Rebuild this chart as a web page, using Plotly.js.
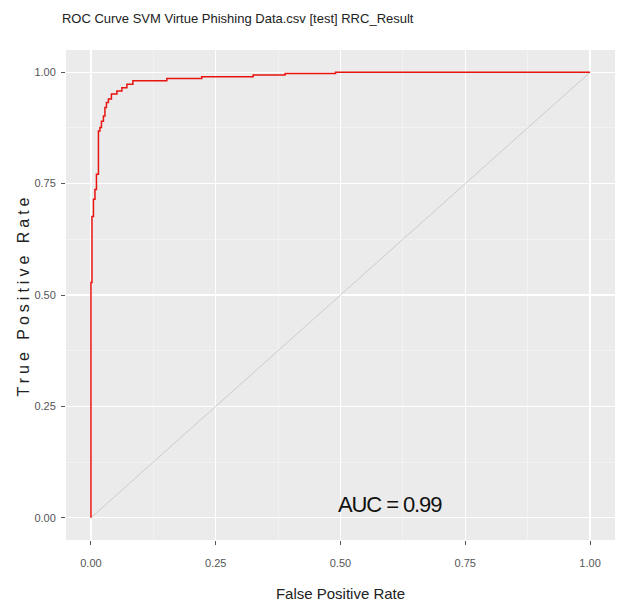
<!DOCTYPE html>
<html><head><meta charset="utf-8">
<script src="https://cdn.plot.ly/plotly-3.0.1.min.js"></script>
<style>
html,body{margin:0;padding:0;background:#fff}
.ytitle{letter-spacing:4px}
.annotation-text{letter-spacing:-1.1px}
</style>
</head><body><div id="chart" style="width:625px;height:604px"></div>
<script>
const fpr = [0, 0, 0.002, 0.005, 0.008, 0.011, 0.015, 0.018, 0.021, 0.025, 0.028, 0.031, 0.035, 0.041, 0.052, 0.062, 0.072, 0.084, 0.152, 0.222, 0.325, 0.389, 0.49, 1.0];
const tpr = [0, 0.528, 0.676, 0.715, 0.737, 0.771, 0.868, 0.876, 0.89, 0.902, 0.921, 0.932, 0.94, 0.951, 0.958, 0.965, 0.973, 0.981, 0.986, 0.99, 0.994, 0.997, 1.0, 1.0];
const diagX = [0, 1];
const diagY = [0, 1];
const tickVals = [0, 0.25, 0.5, 0.75, 1];
const tickText = ['0.00', '0.25', '0.50', '0.75', '1.00'];
const titleText = 'ROC Curve SVM Virtue Phishing Data.csv [test] RRC_Result';
const aucText = 'AUC = 0.99';

const sans = '"Liberation Sans", Arial, sans-serif';

const traces = [
  {x: diagX, y: diagY, type: 'scatter', mode: 'lines', line: {color: '#cbcbcb', width: 1}, hoverinfo: 'skip'},
  {x: fpr, y: tpr, type: 'scatter', mode: 'lines', line: {color: '#e8140f', width: 1.5, shape: 'hv'}}
];

const axisBase = {
  range: [-0.05, 1.05],
  tickvals: tickVals, ticktext: tickText,
  ticks: 'outside', ticklen: 4, tickwidth: 1, tickcolor: '#555',
  tickfont: {family: sans, size: 11, color: '#555'},
  showgrid: true, gridcolor: '#ffffff', gridwidth: 1.2,
  minor: {showgrid: true, gridcolor: '#f7f7f7', gridwidth: 0.6, dtick: 0.125, tick0: 0.125},
  zeroline: false, showline: false, fixedrange: true
};

const layout = {
  width: 625, height: 604,
  margin: {l: 66, r: 10, t: 50, b: 64, autoexpand: false},
  paper_bgcolor: '#ffffff', plot_bgcolor: '#ebebeb',
  showlegend: false,
  title: {text: titleText, x: 0.099, xanchor: 'left', xref: 'container', y: 0.97, yanchor: 'middle', yref: 'container',
          font: {family: sans, size: 13, color: '#222'}},
  xaxis: Object.assign({}, axisBase, {
    ticklabelstandoff: 9, automargin: false,
    title: {text: 'False Positive Rate', font: {family: sans, size: 15, color: '#222'}, standoff: 20}
  }),
  yaxis: Object.assign({}, axisBase, {
    ticklabelstandoff: 3, automargin: false,
    title: {text: 'True Positive Rate', font: {family: sans, size: 16, color: '#222'}, standoff: 0}
  }),
  annotations: [{x: 0.60, y: 0.029, xref: 'x', yref: 'y', text: aucText, showarrow: false,
    xanchor: 'center', yanchor: 'middle', font: {family: sans, size: 22, color: '#111'}}]
};

Plotly.newPlot('chart', traces, layout, {displayModeBar: false, staticPlot: true});
</script></body></html>
